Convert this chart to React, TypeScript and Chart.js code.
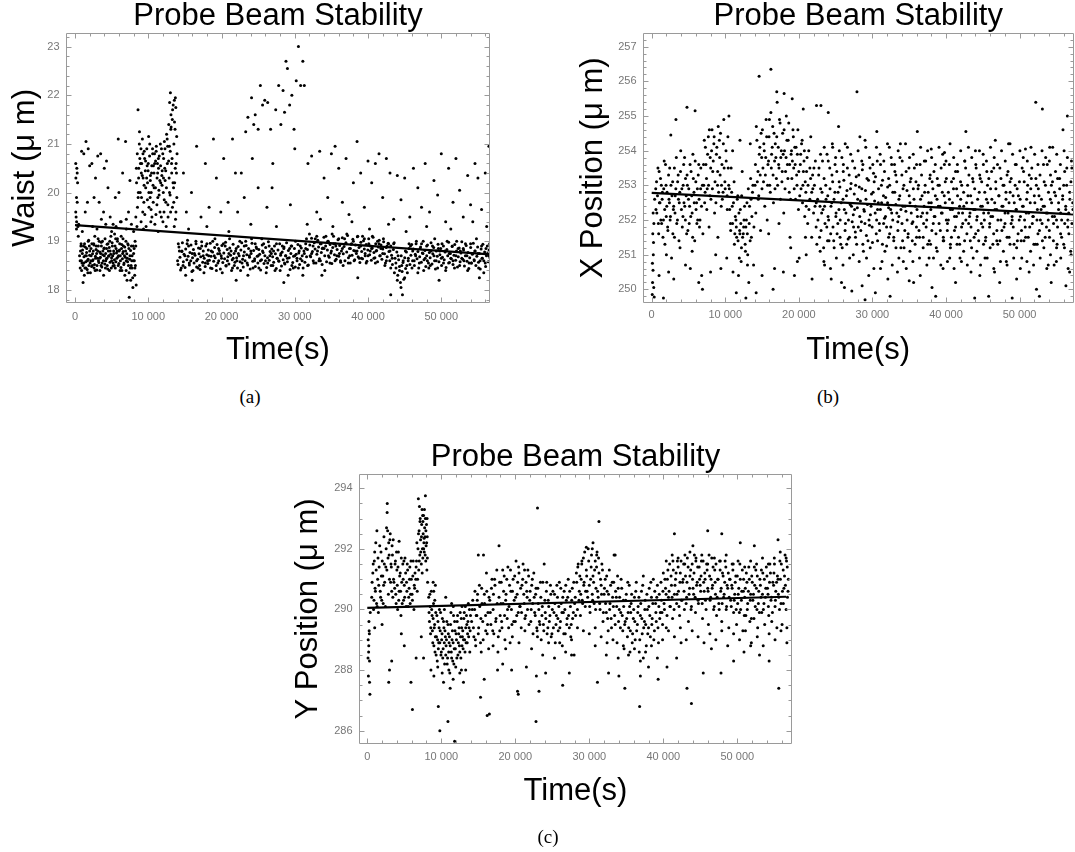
import React, { useEffect, useRef } from "react";
import { Chart, registerables } from "chart.js";

Chart.register(...registerables);

// ---------- DATA (time in kiloseconds, values in micrometres) ----------

const timeTicks = [0, 10000, 20000, 30000, 40000, 50000];
const waistTicks = [18, 19, 20, 21, 22, 23];
const xPosTicks = [250, 251, 252, 253, 254, 255, 256, 257];
const yPosTicks = [286, 288, 290, 292, 294];

const waistFit: [number, number][] = [[0, 19.33], [56.8, 18.73]];
const xPosFit: [number, number][] = [[0, 252.78], [57.4, 252.16]];
const yPosFit: [number, number][] = [[0, 290.05], [56.6, 290.42]];

const waistPoints: [number, number][] = [
  [0.1,20.6],[0.12,20.3],[0.2,19.9],[0.15,19.5],[0.22,19.4],[0.3,20.4],[0.3,19.8],[0.35,20.2],[0.4,19.3],[0.1,19.6],[0.25,20.5],[0.2,19.25],[0.45,19.1],[0.5,19.35],
  [0.9,20.85],[1.2,20.8],[1.5,21.05],[1.8,20.9],[1.7,19.8],[2.0,20.55],[2.3,20.6],[1.0,19.2],[2.6,19.9],[3.1,20.75],[3.3,19.8],[3.5,20.8],[3.6,19.45],[4.3,20.65],[4.5,20.1],[4.8,19.5],[5.2,19.35],[5.9,21.1],[6.0,20.0],[6.2,19.4],[6.5,20.4],[6.9,21.05],[7.3,19.6],[7.5,20.25],[2.8,20.3],[4.0,20.5],[5.5,19.9],[1.4,19.6],[3.9,19.6],[7.0,19.45],
  [2.4,19.3],[3.0,19.25],[4.2,19.35],[5.0,19.2],[5.6,19.3],[6.3,19.4],[7.0,19.25],[7.7,19.35],[8.0,19.2],
  [0.7,18.6],[0.8,18.9],[0.9,18.4],[1.0,18.75],[1.1,18.15],[1.2,18.55],[1.3,18.95],[1.4,18.7],[1.5,18.45],[1.6,18.85],[1.7,18.6],[1.8,19.0],[1.9,18.5],[2.0,18.8],[2.1,18.35],[2.2,18.7],[2.3,18.95],[2.4,18.6],[2.5,18.8],[2.6,18.45],[2.7,19.1],[2.8,18.65],[2.9,18.9],[3.0,18.5],[3.1,18.8],[3.2,18.6],[3.3,19.0],[3.4,18.4],[3.5,18.75],[3.6,18.9],[3.7,18.55],[3.8,18.8],[3.9,18.3],[4.0,18.7],[4.1,19.05],[4.2,18.6],[4.3,18.85],[4.4,18.5],[4.5,18.95],[4.6,18.7],[4.7,18.4],[4.8,18.8],[4.9,19.1],[5.0,18.6],[5.1,18.9],[5.2,18.55],[5.3,18.75],[5.4,19.15],[5.5,18.45],[5.6,18.85],[5.7,18.65],[5.8,19.0],[5.9,18.5],[6.0,18.8],[6.1,18.95],[6.2,18.6],[6.3,19.1],[6.4,18.4],[6.5,18.75],[6.6,18.9],[6.7,18.55],[6.8,18.3],[6.9,18.8],[7.0,18.6],[7.1,18.2],[7.2,18.95],[7.3,18.5],[7.4,17.85],[7.5,18.7],[7.6,18.2],[7.7,18.9],[7.8,18.45],[7.9,18.05],[8.0,18.75],[8.1,18.6],[8.2,19.0],
  [0.75,18.8],[0.95,18.55],[1.15,18.9],[1.35,18.45],[1.55,18.7],[1.75,18.35],[1.95,18.9],[2.15,18.6],[2.35,18.5],[2.55,18.95],[2.75,18.4],[2.95,18.75],[3.15,19.05],[3.35,18.65],[3.55,18.5],[3.75,19.0],[3.95,18.85],[4.15,18.45],[4.35,18.65],[4.55,18.8],[4.75,19.0],[4.95,18.45],[5.15,18.7],[5.35,18.5],[5.55,19.05],[5.75,18.8],[5.95,18.7],[6.15,18.4],[6.35,18.85],[6.55,19.05],[6.75,18.7],[6.95,19.0],[7.15,18.65],[7.35,18.85],[7.55,18.45],[7.75,18.6],[7.95,18.9],[8.15,18.3],
  [8.25,18.5],[8.3,18.9],[8.35,18.1],
  [8.3,19.5],[8.4,20.2],[8.5,20.8],[8.6,21.7],[8.62,19.9],[8.7,20.5],[8.8,21.25],[8.9,20.0],[9.0,20.9],[9.02,19.4],[9.1,20.6],[9.2,21.1],[9.3,20.3],[9.4,19.8],[9.5,20.7],[9.6,20.45],[9.7,19.3],[9.8,20.9],[9.9,20.2],[10.0,20.6],[10.1,19.7],[10.2,21.0],[10.3,20.35],[10.4,20.0],[10.5,19.5],[10.6,20.8],[10.7,20.55],[10.8,20.1],[10.9,19.35],[11.0,20.65],[11.1,20.95],[11.2,20.3],[11.3,19.9],[11.4,20.5],[11.5,20.75],[11.6,19.6],[11.7,20.2],[11.8,20.9],[11.9,20.45],[12.0,19.4],[12.1,20.7],[12.2,21.05],[12.3,20.25],[12.4,19.8],[12.5,21.2],[12.6,20.6],[12.7,19.5],[12.8,21.4],[12.9,20.0],[13.0,20.85],[13.1,21.6],[13.2,20.4],[13.3,19.7],[13.4,21.8],[13.5,21.0],[13.6,20.2],[13.7,21.95],[13.72,19.45],[13.8,20.6],[13.9,19.9],[13.02,22.05],[13.32,21.7],[12.92,21.85],
  [8.45,19.3],[8.65,20.0],[8.85,20.7],[9.05,20.4],[9.25,19.6],[9.45,20.85],[9.65,20.1],[9.85,20.55],[10.05,21.15],[10.25,19.9],[10.45,20.4],[10.65,20.15],[10.85,20.8],[11.05,19.55],[11.25,20.6],[11.45,20.05],[11.65,21.0],[11.85,20.35],[12.05,20.0],[12.25,20.5],[12.45,19.3],[12.65,20.95],[12.85,20.3],[13.05,19.6],[13.25,20.7],[13.45,20.1],[13.65,21.3],[13.85,20.4],[9.35,19.25],[10.35,19.4],[11.35,19.2],[12.15,19.6],[13.55,19.3],
  [14.0,18.6],[14.1,18.95],[14.5,18.45],[14.6,18.8],[15.0,18.7],[15.1,18.3],[15.5,18.9],[15.6,18.55],[16.0,18.75],[16.1,18.4],[16.5,19.0],[16.6,18.6],[17.0,18.5],[17.1,18.85],[17.5,18.7],[17.6,18.35],[18.0,18.95],[18.1,18.6],[18.5,18.45],[18.6,18.8],[19.0,18.7],[19.1,19.05],[19.5,18.55],[19.6,18.85],[20.0,18.65],[20.1,18.35],[20.5,18.9],[20.6,18.5],[21.0,18.75],[21.1,19.05],[21.5,18.45],[21.6,18.65],[22.0,18.85],[22.1,18.6],[22.5,19.0],[22.6,18.4],[23.0,18.7],[23.1,18.9],[23.5,18.55],[23.6,18.3],[24.0,18.8],[24.1,19.05],[24.5,18.6],[24.6,18.95],[25.0,18.7],[25.1,18.45],[25.5,19.05],[25.6,18.8],[26.0,18.6],[26.1,18.35],[26.5,18.9],[26.6,18.7],[27.0,18.5],[27.1,18.8],[27.5,18.95],[27.6,18.65],[28.0,18.4],[28.1,18.75],[28.5,18.85],[28.6,18.55],[29.0,18.65],[29.1,18.3],[29.5,18.9],[29.6,18.5],[30.0,18.7],[30.1,19.0],[30.5,18.45],[30.6,18.8],[31.0,18.6],[31.1,18.3],[31.5,18.85],[31.6,19.05],
  [32.0,19.15],[32.1,18.7],[32.5,18.9],[32.6,18.55],[33.0,19.1],[33.1,18.8],[33.5,18.6],[33.6,18.95],[34.0,18.85],[34.1,18.4],[34.5,19.0],[34.6,18.7],[35.0,18.8],[35.1,19.15],[35.5,18.6],[35.6,18.9],[36.0,19.05],[36.1,18.75],[36.5,18.85],[36.6,18.5],[37.0,18.95],[37.1,19.15],[37.5,18.7],[37.6,18.85],[38.0,19.0],[38.1,18.6],[38.5,18.8],[38.6,19.1],[39.0,18.9],[39.1,18.65],[39.5,19.05],[39.6,18.75],[40.0,18.7],[40.1,18.95],[40.5,18.85],[40.6,19.1],[41.0,18.55],[41.1,18.8],[41.5,18.95],[41.6,18.7],[42.0,18.75],[42.1,19.05],[42.5,18.6],[42.6,18.9],[43.0,18.8],[43.1,18.45],[43.5,18.95],[43.6,18.35],[44.0,18.2],[44.1,18.7],[44.5,18.05],[44.6,18.5],[45.0,18.25],[45.1,18.8],[45.5,18.65],[45.6,18.95],[46.0,18.45],[46.1,18.8],[46.5,18.7],[46.6,19.0],[47.0,18.55],[47.1,18.85],[47.5,18.75],[47.6,18.4],[48.0,18.9],[48.1,18.6],[48.5,18.5],[48.6,18.8],[49.0,18.7],[49.1,19.05],[49.5,18.45],[49.6,18.85],[50.0,18.65],[50.1,18.95],[50.5,18.8],[50.6,18.4],[51.0,18.55],[51.1,18.75],[51.5,18.9],[51.6,18.6],[52.0,18.7],[52.1,19.0],[52.5,18.5],[52.6,18.8],[53.0,18.85],[53.1,18.6],[53.5,18.7],[53.6,18.4],[54.0,18.95],[54.1,18.55],[54.5,18.6],[54.6,18.8],[55.0,18.75],[55.1,18.45],[55.5,18.9],[55.6,18.65],[56.0,18.55],[56.1,18.85],[56.5,18.7],[56.6,18.95],
  [14.25,18.8],[14.75,18.5],[15.3,18.95],[15.8,18.6],[16.3,18.75],[16.8,18.45],[17.3,18.9],[17.8,18.55],[18.25,18.7],[18.8,19.0],[19.3,18.4],[19.75,18.75],[20.25,18.95],[20.8,18.6],[21.3,18.8],[21.75,18.5],[22.3,18.75],[22.8,18.55],[23.3,19.0],[23.8,18.7],[24.3,18.45],[24.8,18.85],[25.3,18.6],[25.75,18.95],[26.3,18.55],[26.8,18.75],[27.3,18.4],[27.8,18.6],[28.3,18.9],[28.75,18.7],[29.3,18.85],[29.8,18.45],[30.3,18.65],[30.75,18.9],[31.3,18.75],[31.75,18.5],[32.3,18.75],[32.8,19.05],[33.3,18.6],[33.75,18.85],[34.25,19.1],[34.8,18.55],[35.3,18.95],[35.75,18.7],[36.25,18.6],[36.8,19.05],[37.3,18.55],[37.75,18.95],[38.25,18.8],[38.8,18.65],[39.25,19.1],[39.75,18.55],[40.3,18.8],[40.8,18.65],[41.3,19.0],[41.75,18.85],[42.3,18.5],[42.8,18.95],[43.3,18.65],[43.8,18.55],[44.3,18.4],[44.8,18.6],[45.3,18.5],[45.8,18.9],[46.3,18.6],[46.8,18.35],[47.3,18.95],[47.8,18.65],[48.3,18.45],[48.8,18.9],[49.3,18.6],[49.8,18.8],[50.3,18.55],[50.8,19.0],[51.3,18.65],[51.8,18.45],[52.3,18.85],[52.8,18.65],[53.3,18.95],[53.8,18.55],[54.3,18.75],[54.8,19.05],[55.3,18.6],[55.8,18.35],[56.3,18.75],[56.8,18.55],
  [15.5,19.25],[18.0,19.3],[21.0,19.2],[24.0,19.35],[27.5,19.3],[31.7,19.35],[33.5,19.45],[35.2,19.3],[37.8,19.4],[40.2,19.25],[42.8,19.35],[45.2,19.2],[48.0,19.3],[51.3,19.25],[54.3,19.4],[56.2,19.3],
  [16.0,18.2],[22.0,18.2],[28.5,18.15],[33.7,18.3],[38.6,18.25],[43.1,17.9],[44.7,17.9],[49.7,18.2],[55.2,18.25],
  [14.8,20.4],[15.2,19.6],[15.9,20.0],[16.6,20.95],[17.2,19.5],[17.8,20.6],[18.3,19.7],[18.9,21.1],[19.3,20.3],[19.9,19.6],[20.3,20.7],[20.9,19.8],[21.5,21.1],[21.9,20.4],[22.2,19.6],[22.7,20.4],[23.1,19.9],[23.3,21.25],[23.6,21.55],[24.1,21.95],[24.4,21.4],[24.6,21.6],[24.2,20.7],[25.0,21.3],[25.3,22.2],[25.6,21.8],[25.9,21.9],[26.3,21.85],[26.7,21.3],[26.9,20.1],[27.4,21.7],[27.8,22.2],[28.1,21.4],[28.4,22.1],[28.6,21.65],[28.8,22.7],[29.0,22.55],[29.3,21.8],[29.6,22.0],[29.9,21.3],[30.2,22.3],[30.5,23.0],[30.8,22.2],[31.1,22.7],[31.3,22.2],[30.0,20.9],[29.4,19.75],[27.0,20.6],[26.2,19.7],[25.0,20.1],
  [31.8,20.6],[32.3,20.75],[33.0,19.6],[33.4,20.85],[34.0,20.3],[34.5,19.9],[35.0,20.8],[35.5,20.95],[36.0,20.5],[36.5,19.8],[37.0,20.7],[37.4,19.55],[38.0,20.2],[38.5,21.05],[39.0,20.4],[39.5,19.7],[40.0,20.65],[40.5,20.2],[41.0,20.6],[41.5,20.8],[42.0,19.9],[42.5,20.7],[43.0,20.4],[43.5,19.45],[44.0,20.35],[44.5,19.85],[45.0,20.3],[45.7,19.5],[46.2,20.5],[46.8,20.1],[47.3,19.7],[47.8,20.6],[48.4,19.6],[49.0,20.25],[49.5,19.95],[50.0,20.8],[50.6,19.4],[51.0,20.5],[51.6,19.8],[52.0,20.7],[52.5,20.05],[53.0,19.5],[53.6,20.35],[54.0,19.75],[54.6,20.6],[55.0,20.3],[55.5,19.65],[56.0,20.4],[56.5,20.95],[56.8,19.6],
];

const waistDense: [number, number][] = [
  [0.62,18.7],[0.71,18.45],[0.83,18.95],[0.88,18.6],[1.03,18.82],[1.08,18.5],[1.22,18.68],[1.27,18.3],[1.41,18.88],[1.47,18.58],[1.58,18.77],[1.66,18.42],[1.79,18.63],[1.86,19.02],[1.99,18.71],[2.06,18.55],[2.18,18.85],[2.27,18.48],[2.39,18.74],[2.46,18.62],[2.58,18.92],[2.66,18.52],[2.79,18.69],[2.87,18.83],[2.98,18.41],[3.07,18.65],[3.18,18.9],[3.26,18.56],[3.39,18.78],[3.47,18.67],[3.58,18.98],[3.66,18.47],[3.79,18.72],[3.88,18.6],[3.99,18.86],[4.07,18.53],[4.18,18.75],[4.27,18.64],[4.38,18.94],[4.47,18.43],[4.59,18.69],[4.67,18.87],[4.78,18.57],[4.87,18.73],[4.99,18.66],[5.07,18.97],[5.18,18.49],[5.27,18.8],[5.38,18.62],[5.47,18.9],[5.58,18.58],[5.66,18.76],[5.79,19.05],[5.87,18.68],[5.98,18.54],[6.07,18.82],[6.18,18.7],[6.27,18.46],[6.38,18.93],[6.47,18.64],[6.58,18.79],[6.66,18.52],[6.79,18.88],[6.87,18.67],[6.98,18.4],[7.07,18.74],[7.18,18.58],[7.27,18.92],[7.38,18.35],[7.47,18.63],[7.58,18.81],[7.66,18.5],[7.79,18.7],[7.87,18.25],[7.98,18.6],[8.07,18.85],[8.18,18.45],
  [8.38,20.5],[8.53,19.7],[8.68,20.3],[8.78,21.0],[8.93,20.6],[9.08,19.9],[9.18,20.35],[9.28,20.8],[9.43,20.15],[9.53,19.55],[9.63,20.65],[9.78,20.3],[9.88,19.85],[9.98,20.45],[10.08,20.0],[10.18,20.75],[10.28,20.25],[10.38,19.65],[10.48,20.55],[10.58,20.9],[10.68,19.8],[10.78,20.4],[10.88,20.6],[10.98,20.1],[11.08,20.85],[11.18,19.75],[11.28,20.4],[11.38,20.7],[11.48,19.95],[11.58,20.25],[11.68,20.55],[11.78,19.5],[11.88,20.15],[11.98,20.8],[12.08,20.3],[12.18,19.85],[12.28,20.9],[12.38,20.45],[12.48,20.1],[12.58,21.1],[12.68,19.75],[12.78,20.65],[12.88,20.95],[12.98,19.95],[13.08,21.3],[13.18,20.6],[13.28,21.5],[13.38,20.2],[13.48,19.8],[13.58,21.45],[13.68,20.5],[13.78,19.6],[13.88,21.15],[13.93,20.8],[13.76,21.75],[13.56,21.9],[13.12,21.35],
  [14.07,18.52],[14.19,18.88],[14.33,18.67],[14.41,18.41],[14.58,18.79],[14.66,18.97],[14.79,18.58],[14.88,18.73],[15.02,18.46],[15.11,18.84],[15.27,18.62],[15.36,19.02],[15.44,18.69],[15.61,18.51],[15.69,18.77],[15.83,18.92],[15.95,18.38],[16.04,18.66],[16.17,18.83],[16.25,18.55],[16.38,18.71],[16.52,18.95],[16.6,18.47],[16.74,18.63],[16.86,18.86],[16.93,18.74],[17.08,18.42],[17.16,18.68],[17.29,18.99],[17.43,18.57],[17.51,18.8],[17.64,18.65],[17.77,18.48],[17.85,18.9],[17.99,18.72],[18.13,18.54],[18.2,18.82],[18.34,18.61],[18.46,18.96],[18.57,18.69],[18.7,18.44],[18.78,18.78],[18.93,18.59],[19.06,18.87],[19.14,18.66],[19.27,18.5],[19.39,18.93],[19.48,18.74],[19.62,18.6],[19.7,18.81],[19.84,18.43],[19.96,18.7],[20.05,18.91],[20.18,18.56],[20.31,18.76],[20.42,18.64],[20.55,18.98],[20.63,18.49],[20.77,18.83],[20.86,18.68],[21.0,18.53],[21.12,18.86],[21.24,18.71],[21.37,18.4],[21.46,18.62],[21.58,18.94],[21.71,18.75],[21.83,18.57],[21.92,18.8],[22.06,18.66],[22.18,18.45],[22.27,18.89],[22.41,18.7],[22.53,18.58],[22.64,18.82],[22.76,18.97],[22.88,18.63],[22.97,18.47],[23.11,18.78],[23.22,18.6],[23.36,18.91],[23.45,18.72],[23.57,18.51],[23.69,18.85],[23.82,18.67],[23.91,18.43],[24.04,18.75],[24.16,18.96],[24.27,18.59],[24.38,18.81],[24.52,18.64],[24.61,18.48],[24.73,18.88],[24.87,18.69],[24.96,18.55],[25.09,18.83],[25.21,18.73],[25.34,18.41],[25.46,18.62],[25.55,18.92],[25.68,18.77],[25.8,18.54],[25.92,18.7],[26.03,18.87],[26.17,18.46],[26.28,18.66],[26.4,18.99],[26.51,18.61],[26.63,18.79],[26.77,18.5],[26.86,18.84],[26.98,18.68],[27.12,18.57],[27.23,18.9],[27.35,18.74],[27.47,18.44],[27.58,18.65],[27.71,18.82],[27.83,18.59],[27.94,18.95],[28.06,18.71],[28.19,18.49],[28.28,18.78],[28.42,18.62],[28.53,18.88],[28.65,18.53],[28.77,18.7],[28.88,18.97],[28.99,18.58],[29.13,18.81],[29.24,18.66],[29.36,18.42],[29.47,18.75],[29.59,18.9],[29.72,18.56],[29.83,18.69],[29.95,18.85],[30.07,18.47],[30.18,18.73],[30.31,18.6],[30.43,18.93],[30.54,18.76],[30.66,18.52],[30.78,18.64],[30.89,18.86],[31.02,18.7],[31.14,18.45],[31.25,18.8],[31.38,18.57],[31.49,18.95],[31.61,18.68],[31.73,18.83],[31.86,18.51],
  [32.05,18.92],[32.17,18.68],[32.29,19.06],[32.41,18.79],[32.52,18.6],[32.66,18.97],[32.77,18.84],[32.89,18.55],[33.01,18.73],[33.14,19.02],[33.25,18.88],[33.37,18.64],[33.49,18.95],[33.62,18.77],[33.73,18.52],[33.84,18.86],[33.98,19.08],[34.09,18.7],[34.21,18.9],[34.34,18.58],[34.45,18.82],[34.57,19.0],[34.7,18.67],[34.82,18.93],[34.93,18.76],[35.06,18.54],[35.18,18.87],[35.29,19.1],[35.42,18.72],[35.53,18.95],[35.65,18.63],[35.78,18.83],[35.9,19.03],[36.01,18.69],[36.13,18.91],[36.26,18.57],[36.37,18.8],[36.49,19.07],[36.62,18.74],[36.73,18.89],[36.85,18.6],[36.98,18.97],[37.09,18.78],[37.21,19.12],[37.33,18.66],[37.46,18.85],[37.57,18.55],[37.69,18.94],[37.82,18.71],[37.93,19.04],[38.05,18.81],[38.18,18.62],[38.29,18.92],[38.41,18.75],[38.54,19.09],[38.65,18.68],[38.77,18.87],[38.89,18.56],[39.02,18.98],[39.13,18.79],[39.25,18.64],[39.38,19.01],[39.49,18.84],[39.61,18.7],[39.74,18.93],[39.85,18.59],[39.97,18.82],[40.09,19.05],[40.22,18.72],[40.33,18.9],[40.45,18.61],[40.58,18.86],[40.69,19.08],[40.81,18.77],[40.94,18.66],[41.05,18.95],[41.17,18.81],[41.3,18.58],[41.41,18.88],[41.53,19.02],[41.66,18.7],[41.77,18.92],[41.89,18.63],[42.02,18.84],[42.13,18.99],[42.25,18.74],[42.38,18.55],[42.49,18.87],[42.61,18.68],[42.74,18.96],[42.85,18.79],[42.97,18.6],[43.1,18.9],[43.21,18.71],[43.33,18.52],[43.46,18.83],[43.57,18.97],[43.69,18.65],[43.82,18.45],[43.93,18.78],
  [44.06,18.3],[44.18,18.62],[44.29,18.48],[44.42,18.15],[44.53,18.7],[44.65,18.38],[44.77,18.56],[44.88,18.22],[45.01,18.66],[45.13,18.44],[45.24,18.78],[45.37,18.35],[45.49,18.6],[45.6,18.85],[45.72,18.52],[45.85,18.71],[45.96,18.93],
  [46.08,18.6],[46.2,18.84],[46.33,18.5],[46.45,18.73],[46.56,18.95],[46.69,18.64],[46.81,18.79],[46.92,18.45],[47.05,18.68],[47.17,18.88],[47.28,18.57],[47.41,18.76],[47.53,19.0],[47.64,18.62],[47.76,18.81],[47.89,18.48],[48.01,18.7],[48.12,18.92],[48.25,18.55],[48.37,18.77],[48.48,18.66],[48.6,18.97],[48.73,18.53],[48.84,18.74],[48.96,18.87],[49.09,18.6],[49.2,18.43],[49.32,18.8],[49.45,18.69],[49.56,18.94],[49.68,18.58],[49.81,18.72],[49.92,18.85],[50.04,18.5],[50.16,18.67],[50.29,18.9],[50.4,18.62],[50.52,18.78],[50.65,18.46],[50.76,18.83],[50.88,18.7],[51.01,18.98],[51.12,18.56],[51.24,18.75],[51.37,18.64],[51.48,18.89],[51.6,18.52],[51.73,18.71],[51.84,18.93],[51.96,18.61],[52.08,18.8],[52.21,18.47],[52.32,18.68],[52.44,18.86],[52.57,18.58],[52.68,18.76],[52.8,18.99],[52.93,18.63],[53.04,18.82],[53.16,18.49],[53.29,18.7],[53.4,18.91],[53.52,18.59],[53.65,18.77],[53.76,18.44],[53.88,18.66],[54.01,18.87],[54.12,18.55],[54.24,18.73],[54.37,18.96],[54.48,18.62],[54.6,18.8],[54.72,18.5],[54.85,18.69],[54.96,18.88],[55.08,18.57],[55.21,18.75],[55.32,18.43],[55.44,18.84],[55.57,18.65],[55.68,18.94],[55.8,18.6],[55.92,18.78],[56.05,18.48],[56.16,18.7],[56.28,18.9],[56.41,18.58],[56.52,18.82],[56.64,18.66],[56.76,18.97],
];

const xPosPoints: [number, number][] = [
  [0.08,249.85],[0.12,250.2],[0.18,250.55],[0.1,250.75],[0.22,251.0],[0.25,251.35],[0.15,251.6],[0.3,251.9],[0.28,250.05],[0.35,249.78],[0.2,252.2],[0.4,252.6],
  [0.55,252.9],[0.7,252.2],[0.85,253.5],[0.95,251.6],[1.05,252.5],[1.2,253.2],[1.35,251.9],[1.45,252.8],[1.6,252.0],[1.7,253.7],[1.8,251.3],[1.95,253.0],[2.05,252.4],[2.2,251.7],[2.35,252.6],[2.45,253.5],[2.55,252.1],[2.7,250.9],[2.85,253.1],[2.95,252.3],[3.1,251.5],[3.2,252.7],[3.35,253.8],[3.5,252.0],[3.6,253.3],[3.75,252.5],[3.85,251.2],[3.95,254.0],[4.1,252.9],[4.25,252.1],[4.35,253.6],[4.5,252.4],[4.6,253.2],[4.75,251.6],[4.85,253.0],[5.0,252.6],[5.1,251.9],[5.25,250.6],[5.35,253.4],[5.5,252.2],[5.6,253.9],[5.75,252.8],[5.85,251.4],[6.0,253.1],[6.1,252.5],[6.25,252.0],[6.4,253.6],[6.5,251.8],[6.65,252.9],[6.8,250.4],
  [1.6,249.75],[2.6,254.45],[3.3,254.9],[4.8,255.25],[5.9,255.15],[1.0,250.4],[2.3,250.5],[3.0,250.3],[4.6,250.7],[6.4,250.2],[6.9,250.0],[2.0,251.0],[5.5,251.1],
  [7.05,253.6],[7.2,252.5],[7.3,254.1],[7.45,253.2],[7.55,252.9],[7.7,254.4],[7.8,251.8],[7.95,253.8],[8.05,252.6],[8.2,254.6],[8.3,253.4],[8.45,254.2],[8.55,252.2],[8.7,251.0],[8.8,253.9],[8.95,253.0],[9.05,254.7],[9.2,254.3],[9.3,253.3],[9.45,252.4],[9.55,253.6],[9.7,252.8],[9.8,254.9],[9.95,253.1],[10.1,254.0],[10.25,252.7],[10.4,253.5],
  [8.0,250.5],[9.4,250.6],[9.0,251.5],[10.2,250.9],[10.5,255.0],
  [10.55,252.9],[10.7,251.9],[10.8,253.5],[10.95,252.4],[11.05,250.5],[11.2,253.1],[11.3,251.6],[11.45,252.0],[11.55,251.5],[11.7,252.7],[11.8,250.4],[11.95,251.7],[12.05,252.3],[12.2,251.2],[12.3,253.4],[12.45,251.6],[12.55,252.0],[12.7,251.3],[12.8,251.8],[12.95,252.5],[13.05,251.0],[13.2,250.2],[13.3,252.4],[13.45,253.2],[13.55,251.5],[13.7,252.8],[13.85,250.7],
  [11.5,249.9],[12.8,249.75],[13.4,254.2],[11.0,254.0],[12.0,254.3],
  [14.05,253.0],[14.15,252.2],[14.3,254.3],[14.45,253.4],[14.55,252.7],[14.7,254.1],[14.8,251.7],[14.95,253.8],[15.05,254.6],[15.2,253.1],[15.3,254.0],[15.45,253.3],[15.55,254.9],[15.7,252.0],[15.8,253.6],[15.95,254.4],[16.05,253.0],[16.2,255.1],[16.3,253.9],[16.45,254.7],[16.55,252.5],[16.7,253.7],[16.8,254.2],[16.95,253.2],[17.05,255.4],[17.2,254.1],[17.3,253.5],[17.45,254.8],[17.55,253.8],[17.7,253.1],[17.8,254.5],[17.95,252.2],[18.05,254.0],[18.2,253.4],[18.3,255.0],[18.45,253.6],[18.55,254.3],[18.7,252.8],[18.8,251.5],[18.95,253.9],[19.05,253.2],[19.2,254.6],[19.3,253.5],[19.45,254.1],[19.55,252.6],[19.7,253.3],[19.8,253.9],[19.95,252.3],[20.05,250.9],[20.2,253.6],[20.3,252.9],[20.45,254.3],[20.55,253.0],[20.7,253.7],[20.8,252.1],[20.95,252.8],[21.05,253.4],[21.2,251.9],[21.35,254.0],[21.5,252.6],[21.6,253.2],[21.75,251.5],[21.9,252.9],[22.05,253.5],[22.2,252.4],[22.35,251.8],
  [14.6,256.15],[16.2,256.35],[17.0,255.7],[18.0,255.65],[19.1,255.5],[20.6,255.2],[22.4,255.3],[15.0,250.4],[16.7,250.6],[17.9,250.5],[19.4,250.4],[21.0,251.0],[14.2,249.9],[16.5,250.0],[21.8,250.3],
  [22.55,252.6],[22.7,253.3],[22.82,251.5],[22.96,252.9],[23.1,252.2],[23.22,253.7],[23.37,251.2],[23.5,252.4],[23.66,253.0],[23.8,251.8],[23.93,252.7],[24.05,252.0],[24.2,253.5],[24.33,251.6],[24.47,252.5],[24.6,253.1],[24.74,251.4],[24.9,252.8],[25.03,252.1],[25.16,253.4],[25.3,251.9],[25.45,252.3],[25.58,252.95],[25.7,251.3],[25.85,253.8],[26.0,252.6],[26.12,253.15],[26.28,251.7],[26.4,252.2],[26.55,252.85],[26.7,251.45],[26.84,253.3],[26.98,252.45],[27.1,253.05],[27.25,251.95],[27.4,252.15],[27.53,252.75],[27.68,251.65],[27.8,253.25],[27.95,252.35],[28.08,251.8],[28.22,252.95],[28.37,252.55],[28.5,251.95],[28.63,253.45],[28.78,251.1],[28.9,252.25],[29.05,252.85],[29.18,251.55],[29.32,252.45],[29.47,253.15],[29.6,251.85],[29.73,252.15],[29.88,252.75],
  [30.0,251.35],[30.15,253.35],[30.3,252.55],[30.42,253.25],[30.57,252.0],[30.7,252.3],[30.83,252.9],[30.98,251.7],[31.1,253.6],[31.25,252.5],[31.38,253.15],[31.52,251.9],[31.65,252.05],[31.8,252.65],[31.93,251.25],[32.07,252.95],[32.2,252.35],[32.35,253.0],[32.5,251.8],[32.62,252.2],[32.77,252.8],[32.9,251.5],[33.05,253.4],[33.18,252.45],[33.3,253.1],[33.45,251.95],[33.6,252.1],[33.72,252.7],[33.87,251.2],[34.0,253.3],[34.14,252.4],[34.28,253.0],[34.4,251.7],[34.55,252.25],[34.7,252.85],[34.82,251.5],[34.96,253.5],[35.1,252.5],[35.24,253.2],[35.38,251.9],[35.5,251.95],[35.65,252.6],[35.8,251.3],[35.92,253.1],[36.06,252.3],[36.2,252.9],[36.33,251.7],[36.48,253.6],[36.6,252.1],[36.75,252.7],[36.9,251.5],[37.02,252.4],[37.17,253.0],[37.3,251.8],[37.43,252.2],[37.58,252.8],[37.72,251.4],[37.85,253.3],[38.0,252.5],[38.12,253.1],[38.27,251.9],[38.4,252.1],[38.55,252.7],[38.68,251.2],[38.82,253.2],[38.95,252.4],[39.1,253.0],[39.23,251.7],[39.37,252.2],[39.5,252.8],[39.64,251.5],[39.78,253.6],[39.9,252.5],
  [40.05,253.2],[40.2,251.9],[40.32,252.0],[40.47,252.6],[40.6,251.3],[40.75,253.1],[40.88,252.3],[41.02,252.9],[41.15,251.7],[41.3,253.4],[41.43,252.1],[41.57,252.7],[41.7,251.5],[41.85,252.4],[41.98,253.1],[42.12,251.8],[42.25,252.2],[42.4,252.8],[42.53,251.4],[42.67,253.5],[42.8,252.5],[42.94,253.0],[43.08,251.9],[43.2,252.1],[43.35,252.7],[43.48,251.2],[43.62,253.2],[43.75,252.3],[43.9,252.9],[44.03,251.6],[44.17,252.0],[44.3,252.6],[44.45,251.4],[44.58,253.3],[44.72,252.4],[44.85,253.1],[45.0,251.8],[45.12,252.2],[45.27,252.8],[45.4,251.5],[45.55,253.4],[45.68,252.5],[45.82,253.2],[45.95,251.9],[46.1,252.1],[46.23,252.6],[46.37,251.3],[46.5,253.5],[46.65,252.3],[46.78,252.9],[46.92,251.7],[47.05,252.0],[47.2,252.7],[47.33,251.4],[47.47,253.2],[47.6,252.4],[47.75,253.0],[47.88,251.8],[48.02,252.2],[48.15,252.8],[48.3,251.5],[48.43,253.4],[48.57,252.5],[48.7,253.1],[48.85,251.9],[48.98,252.1],[49.12,252.7],[49.25,251.3],[49.4,253.0],[49.53,252.3],[49.67,252.9],[49.8,251.6],[49.95,252.0],
  [50.08,252.6],[50.22,251.4],[50.35,253.5],[50.5,252.4],[50.63,253.1],[50.77,251.8],[50.9,252.2],[51.05,252.8],[51.18,251.5],[51.32,253.3],[51.45,252.5],[51.6,253.2],[51.73,251.9],[51.87,252.1],[52.0,252.7],[52.15,251.3],[52.28,253.0],[52.42,252.3],[52.55,252.9],[52.7,251.7],[52.83,252.0],[52.97,252.6],[53.1,251.4],[53.25,253.6],[53.38,252.4],[53.52,253.0],[53.65,251.8],[53.8,252.2],[53.93,252.8],[54.07,251.5],[54.2,253.3],[54.35,252.5],[54.48,253.1],[54.62,251.9],[54.75,252.1],[54.9,252.7],[55.03,251.2],[55.17,253.2],[55.3,252.3],[55.45,252.9],[55.58,251.6],[55.72,252.0],[55.85,252.6],[56.0,251.3],[56.13,253.4],[56.27,252.4],[56.4,253.0],[56.55,251.8],[56.68,252.2],[56.82,252.8],[56.95,251.1],[57.1,253.5],[57.22,252.5],
  [23.0,255.3],[24.0,255.1],[24.6,254.1],[25.4,254.7],[26.3,254.2],[27.9,255.7],[28.3,254.4],[29.0,254.3],[30.6,254.55],[32.3,254.1],[33.8,254.2],[36.1,254.55],[38.0,254.05],[39.8,253.95],[42.7,254.55],[44.0,254.0],[46.7,254.3],[48.7,254.2],[50.8,254.05],[52.2,255.4],[53.1,255.2],[54.1,254.1],[55.9,254.6],[56.5,255.0],
  [23.5,250.7],[24.4,250.3],[25.8,250.2],[26.2,250.05],[27.2,249.95],[28.6,250.1],[29.0,249.7],[29.5,250.4],[30.4,249.9],[31.1,250.6],[32.1,250.3],[32.4,249.8],[33.4,250.5],[34.2,250.8],[35.0,250.25],[35.6,250.2],[36.5,250.4],[37.7,250.9],[38.1,250.05],[38.6,249.8],[39.6,250.6],[40.5,250.9],[41.3,250.2],[42.1,250.8],[43.4,250.5],[43.9,249.75],[44.6,250.4],[45.3,250.9],[45.8,249.8],[46.6,250.5],[47.3,250.2],[48.2,250.8],[49.0,249.75],[49.6,250.3],[50.3,250.9],[51.3,250.5],[52.3,250.0],[52.7,249.8],[53.9,250.7],[54.3,250.2],[55.0,250.8],[56.3,250.1],[56.8,250.5],
];

const xPosDense: [number, number][] = [
  [0.58,252.3],[0.66,253.1],[0.79,252.7],[0.91,251.9],[1.01,253.4],[1.13,252.5],[1.24,252.0],[1.31,253.0],[1.42,252.6],[1.53,251.5],[1.64,252.9],[1.77,252.3],[1.88,253.6],[1.98,252.1],[2.09,252.8],[2.17,251.8],[2.29,253.3],[2.41,252.5],[2.51,252.0],[2.62,253.0],[2.76,252.7],[2.88,251.6],[2.99,252.4],[3.08,253.5],[3.17,252.2],[3.28,252.9],[3.41,251.9],[3.53,253.1],[3.64,252.6],[3.71,251.4],[3.82,252.8],[3.92,253.4],[4.04,252.3],[4.16,251.8],[4.28,253.0],[4.39,252.5],[4.47,253.8],[4.58,252.0],[4.69,252.7],[4.81,253.3],[4.92,251.7],[5.04,252.9],[5.15,252.4],[5.22,253.6],[5.31,252.1],[5.44,252.7],[5.57,251.5],[5.66,253.2],[5.78,252.5],[5.91,253.7],[6.03,252.3],[6.14,251.9],[6.21,252.9],[6.33,253.3],[6.44,252.6],[6.57,252.0],[6.68,253.5],[6.77,252.4],[6.89,253.0],[6.96,251.6],
  [7.08,253.0],[7.15,254.3],[7.26,252.8],[7.37,253.6],[7.49,252.3],[7.6,253.9],[7.73,253.0],[7.84,254.6],[7.92,252.7],[8.02,253.5],[8.14,254.0],[8.25,252.9],[8.37,253.7],[8.49,254.4],[8.61,253.1],[8.73,252.5],[8.86,254.1],[8.97,253.4],[9.1,252.8],[9.24,253.8],[9.35,254.5],[9.49,253.0],[9.6,252.6],[9.74,254.2],[9.85,253.5],[9.99,252.9],[10.13,253.7],[10.27,252.3],[10.36,254.4],[10.47,253.0],
  [10.6,252.3],[10.74,251.7],[10.87,252.8],[10.99,251.9],[11.12,252.5],[11.24,251.3],[11.37,252.1],[11.5,251.8],[11.63,252.6],[11.74,251.4],[11.86,252.2],[11.99,251.6],[12.11,251.9],[12.23,252.7],[12.36,251.5],[12.5,251.8],[12.62,252.4],[12.74,251.1],[12.87,252.0],[13.0,251.6],[13.13,252.9],[13.25,251.9],[13.38,251.4],[13.5,252.6],[13.62,252.1],[13.76,253.0],[13.9,251.8],[12.16,250.8],[11.91,250.9],[13.02,250.7],
  [14.1,253.6],[14.22,254.7],[14.36,253.1],[14.49,252.6],[14.62,253.9],[14.75,253.3],[14.87,254.5],[14.99,252.9],[15.12,253.5],[15.24,254.2],[15.37,252.4],[15.5,253.8],[15.63,254.4],[15.75,253.0],[15.88,253.7],[16.0,254.9],[16.12,252.8],[16.26,253.5],[16.38,254.1],[16.5,253.3],[16.63,254.5],[16.76,252.9],[16.88,253.8],[17.0,254.4],[17.12,253.0],[17.25,253.6],[17.37,254.9],[17.5,252.6],[17.62,254.0],[17.74,253.4],[17.87,253.9],[18.0,254.6],[18.12,252.9],[18.26,253.8],[18.38,254.3],[18.51,253.2],[18.63,254.8],[18.75,253.6],[18.88,252.6],[19.0,254.0],[19.12,253.7],[19.25,254.4],[19.37,252.9],[19.5,253.6],[19.62,254.1],[19.75,253.0],[19.87,254.6],[20.0,253.4],[20.12,252.7],[20.25,253.9],[20.37,254.2],[20.5,252.5],[20.62,253.4],[20.75,254.0],[20.87,253.1],[21.0,252.4],[21.12,253.8],[21.25,253.0],[21.37,252.3],[21.5,253.5],[21.62,254.4],[21.75,252.8],[21.87,253.3],[22.0,252.2],[22.12,253.0],[22.25,253.7],[22.37,252.5],[22.45,251.3],[15.9,251.6],[17.3,251.9],[18.9,251.2],[20.9,251.5],[19.8,250.8],
  [22.6,252.0],[22.74,253.5],[22.88,252.4],[23.02,251.7],[23.15,252.8],[23.28,252.3],[23.43,253.2],[23.56,251.9],[23.7,252.6],[23.83,253.9],[23.97,252.1],[24.1,251.4],[24.24,252.9],[24.37,252.4],[24.5,253.3],[24.64,251.8],[24.78,252.6],[24.92,253.6],[25.06,252.2],[25.2,251.6],[25.33,252.8],[25.48,253.1],[25.62,252.0],[25.76,252.5],[25.9,251.2],[26.04,253.4],[26.18,252.3],[26.33,251.9],[26.46,252.7],[26.6,253.5],[26.74,252.0],[26.88,251.5],[27.02,252.9],[27.16,252.4],[27.3,253.7],[27.44,251.8],[27.58,252.3],[27.72,253.0],[27.86,251.3],[28.0,252.6],[28.14,253.3],[28.28,252.1],[28.42,251.7],[28.56,252.9],[28.7,253.6],[28.84,252.3],[28.98,251.9],[29.12,252.6],[29.26,253.2],[29.4,251.4],[29.54,252.0],[29.68,253.5],[29.82,252.4],[29.96,251.8],[30.1,252.8],[30.24,253.1],[30.38,252.2],[30.52,251.6],[30.66,253.7],[30.8,252.5],[30.94,251.9],[31.08,252.3],[31.22,253.0],[31.36,251.3],[31.5,252.7],[31.64,253.4],[31.78,252.1],[31.92,251.8],[32.06,252.5],[32.2,253.2],[32.34,251.6],[32.48,252.3],[32.62,253.6],[32.76,252.0],[32.9,251.4],[33.04,252.8],[33.18,253.3],[33.32,252.2],[33.46,251.7],[33.6,252.6],[33.74,253.8],[33.88,252.3],[34.02,251.9],[34.16,252.9],[34.3,251.2],[34.44,252.4],[34.58,253.4],[34.72,252.0],[34.86,251.6],[35.0,252.7],[35.14,253.1],[35.28,252.2],[35.42,251.4],[35.56,252.9],[35.7,253.5],[35.84,252.4],[35.98,251.8],[36.12,252.1],[36.26,253.0],[36.4,251.5],[36.54,252.6],[36.68,253.3],[36.82,252.2],[36.96,251.9],[37.1,252.8],[37.24,253.7],[37.38,252.0],[37.52,251.3],[37.66,252.5],[37.8,253.2],[37.94,252.3],[38.08,251.7],[38.22,252.9],[38.36,253.4],[38.5,252.1],[38.64,251.6],[38.78,252.6],[38.92,253.0],[39.06,251.9],[39.2,252.4],[39.34,253.5],[39.48,252.2],[39.62,251.4],[39.76,252.7],[39.9,253.1],
  [40.04,252.0],[40.18,251.7],[40.32,252.8],[40.46,253.6],[40.6,252.3],[40.74,251.5],[40.88,252.5],[41.02,253.2],[41.16,252.1],[41.3,251.8],[41.44,252.9],[41.58,253.4],[41.72,252.2],[41.86,251.3],[42.0,252.6],[42.14,253.0],[42.28,251.9],[42.42,252.4],[42.56,253.7],[42.7,252.0],[42.84,251.6],[42.98,252.7],[43.12,253.3],[43.26,252.2],[43.4,251.8],[43.54,252.5],[43.68,253.1],[43.82,251.5],[43.96,252.3],[44.1,253.5],[44.24,252.1],[44.38,251.7],[44.52,252.8],[44.66,253.2],[44.8,251.9],[44.94,252.4],[45.08,253.6],[45.22,252.0],[45.36,251.4],[45.5,252.6],[45.64,253.0],[45.78,252.2],[45.92,251.8],[46.06,252.9],[46.2,253.4],[46.34,252.1],[46.48,251.6],[46.62,252.5],[46.76,253.1],[46.9,252.3],[47.04,251.3],[47.18,252.7],[47.32,253.5],[47.46,252.0],[47.6,251.7],[47.74,252.4],[47.88,253.0],[48.02,251.9],[48.16,252.6],[48.3,253.3],[48.44,252.2],[48.58,251.5],[48.72,252.8],[48.86,253.2],[49.0,252.0],[49.14,251.8],[49.28,252.5],[49.42,253.6],[49.56,252.3],[49.7,251.4],[49.84,252.7],[49.98,253.1],
  [50.12,252.1],[50.26,251.7],[50.4,252.4],[50.54,253.4],[50.68,252.0],[50.82,251.5],[50.96,252.6],[51.1,253.0],[51.24,252.2],[51.38,251.8],[51.52,252.9],[51.66,253.5],[51.8,252.1],[51.94,251.3],[52.08,252.5],[52.22,253.2],[52.36,252.0],[52.5,251.6],[52.64,252.7],[52.78,253.3],[52.92,252.3],[53.06,251.9],[53.2,252.4],[53.34,253.1],[53.48,251.5],[53.62,252.2],[53.76,253.6],[53.9,252.0],[54.04,251.7],[54.18,252.6],[54.32,253.0],[54.46,252.1],[54.6,251.4],[54.74,252.8],[54.88,253.4],[55.02,252.0],[55.16,251.8],[55.3,252.5],[55.44,253.2],[55.58,252.2],[55.72,251.5],[55.86,252.7],[56.0,253.0],[56.14,251.9],[56.28,252.3],[56.42,253.5],[56.56,252.0],[56.7,251.6],[56.84,252.6],[56.98,253.1],[57.12,251.9],[57.25,252.3],
];

const xPosSpread: [number, number][] = [
  [22.9,251.1],[23.4,250.8],[23.9,251.4],[24.3,250.6],[24.8,251.2],[25.1,250.9],[25.6,251.5],[26.0,250.7],[26.5,251.3],[26.9,250.9],[27.4,251.0],[27.7,251.5],[28.2,250.8],[28.7,251.3],[29.2,250.9],[29.7,251.2],[30.2,250.6],[30.7,251.4],[31.3,250.8],[31.7,251.1],[32.2,251.5],[32.7,250.7],[33.2,251.2],[33.6,250.9],[34.1,251.4],[34.6,250.6],[35.1,251.1],[35.5,250.8],[36.0,251.5],[36.4,250.9],[36.9,251.2],[37.4,250.7],[37.9,251.3],[38.3,250.9],[38.8,251.1],[39.3,250.7],[39.7,251.4],[40.2,250.8],[40.6,251.2],[41.1,250.6],[41.5,251.3],[41.9,250.9],[42.4,251.1],[42.9,250.7],[43.3,251.4],[43.7,250.9],[44.2,251.1],[44.7,250.7],[45.1,251.3],[45.6,250.9],[46.0,251.2],[46.5,250.6],[46.9,251.4],[47.4,250.8],[47.8,251.1],[48.3,250.7],[48.7,251.3],[49.2,250.9],[49.6,251.2],[50.1,250.6],[50.6,251.4],[51.0,250.8],[51.5,251.1],[51.9,250.7],[52.4,251.3],[52.8,250.9],[53.3,251.2],[53.7,250.6],[54.2,251.0],[54.7,250.7],[55.1,251.3],[55.6,250.9],[56.1,251.2],[56.6,250.6],[57.0,251.0],
  [22.95,253.9],[23.45,254.1],[24.0,253.7],[24.55,254.2],[25.0,253.8],[25.5,254.0],[26.05,253.6],[26.6,254.1],[27.05,253.9],[27.6,253.5],[28.05,254.0],[28.55,253.7],[29.1,254.1],[29.6,253.8],[30.05,253.6],[30.55,254.1],[31.05,253.9],[31.55,253.7],[32.05,254.2],[32.55,253.8],[33.0,253.6],[33.5,254.0],[34.05,253.7],[34.5,254.2],[35.05,253.8],[35.55,253.9],[36.0,253.6],[36.55,254.1],[37.05,253.7],[37.5,254.0],[38.05,253.8],[38.55,253.6],[39.05,254.1],[39.55,253.9],[40.0,253.7],[40.55,254.2],[41.05,253.8],[41.55,253.6],[42.0,254.0],[42.55,253.7],[43.05,254.1],[43.5,253.8],[44.05,253.6],[44.55,254.0],[45.05,253.9],[45.5,253.7],[46.05,254.1],[46.55,253.8],[47.0,253.6],[47.55,254.0],[48.05,253.7],[48.5,254.2],[49.05,253.9],[49.55,253.6],[50.05,254.0],[50.5,253.8],[51.05,253.7],[51.55,254.1],[52.05,253.9],[52.5,253.6],[53.05,254.0],[53.55,253.8],[54.05,253.7],[54.5,254.1],[55.05,253.9],[55.55,253.6],[56.05,254.0],[56.5,253.8],[57.05,253.7],
];

const yPosPoints: [number, number][] = [
  [0.1,288.4],[0.15,287.8],[0.2,288.8],[0.25,289.3],[0.12,289.0],[0.3,288.3],[0.35,287.2],[0.22,289.6],[0.3,287.6],[0.4,289.9],[0.18,288.6],[0.28,289.2],
  [0.6,290.4],[0.75,291.2],[0.85,290.0],[0.95,291.6],[1.05,290.7],[1.15,292.2],[1.25,290.2],[1.4,291.0],[1.5,289.9],[1.6,291.4],[1.75,290.6],[1.85,291.9],[1.95,290.3],[2.1,291.1],[2.2,290.8],[2.3,291.5],[2.45,290.1],[2.55,292.0],[2.65,291.3],[2.7,293.5],[2.75,292.6],[2.85,290.5],[2.95,291.8],[3.05,292.3],[3.15,290.9],[3.25,291.4],[3.35,292.1],[3.45,290.4],[3.55,291.0],[3.7,290.7],[3.8,291.6],[3.9,290.2],[4.0,291.3],[4.1,290.0],[4.2,291.9],[4.3,290.6],[4.45,291.2],[4.55,289.8],[4.65,290.9],[4.8,291.5],[4.9,290.3],[5.0,290.8],[5.1,291.7],[5.25,290.1],[5.35,290.6],[5.45,291.3],[5.6,290.4],[5.7,291.0],[5.8,290.2],[5.9,291.6],[6.05,290.5],[6.15,291.1],[6.3,290.0],[6.4,290.7],
  [1.3,292.6],[2.0,289.5],[3.0,288.0],[3.3,288.3],[2.9,287.6],[4.6,289.2],[5.0,288.8],[5.9,287.6],[6.1,286.7],[6.6,288.4],[1.0,289.4],[4.3,292.25],
  [6.55,291.0],[6.65,291.6],[6.75,290.6],[6.85,292.0],[6.95,291.3],[7.0,292.6],[7.1,291.8],[7.15,293.0],[7.2,292.3],[7.3,291.5],[7.35,292.8],[7.4,293.3],[7.45,292.0],[7.5,291.7],[7.55,292.5],[7.6,293.1],[7.65,292.2],[7.7,291.9],[7.75,292.7],[7.8,292.4],[7.85,293.0],[7.9,291.6],[7.95,292.1],[8.0,292.8],[8.05,291.3],[8.1,292.4],[8.15,290.9],[6.9,293.65],[7.85,293.75],[7.3,289.1],[7.6,288.4],
  [8.3,290.4],[8.4,289.6],[8.5,290.1],[8.55,289.2],[8.65,290.6],[8.75,289.8],[8.85,288.9],[8.95,290.2],[9.05,289.4],[9.15,288.6],[9.25,289.9],[9.35,289.1],[9.45,288.3],[9.55,289.6],[9.65,288.9],[9.75,290.0],[9.85,289.3],[9.95,288.5],[10.05,289.0],[10.15,289.7],[10.25,288.7],[10.35,289.4],[10.45,288.2],[10.55,289.1],[10.65,288.8],[10.75,289.6],[10.85,288.4],[10.95,289.2],[11.05,288.9],[11.15,287.9],[11.25,289.5],[11.35,288.6],[11.45,289.0],[11.55,288.3],[11.65,289.8],[11.75,288.7],[11.85,289.3],[11.95,288.1],[12.05,289.0],[12.15,289.6],[12.25,288.5],[12.35,289.2],[12.45,288.8],[12.55,289.9],[12.65,288.4],[12.75,289.4],[12.85,289.1],[12.95,288.7],[13.05,289.7],[13.15,289.0],[13.25,290.1],[13.35,288.9],[13.45,289.5],[13.55,289.2],[13.65,290.2],[13.75,289.4],[13.85,288.6],[13.95,289.8],
  [8.6,288.0],[9.0,287.8],[9.6,286.8],[9.8,286.0],[10.3,287.6],[10.9,286.3],[11.2,287.4],[11.6,287.7],[11.8,285.65],[12.5,287.9],[13.0,287.6],[13.3,288.0],[9.2,290.8],[10.6,290.4],[11.4,290.2],[12.8,290.1],[8.9,290.9],
  [14.1,289.6],[14.25,290.3],[14.4,289.1],[14.5,290.0],[14.65,288.8],[14.8,289.8],[14.9,290.5],[15.05,289.4],[15.2,290.1],[15.3,288.9],[15.45,290.7],[15.6,289.6],[15.7,291.8],[15.85,290.2],[16.0,289.3],[16.15,290.6],[16.3,289.9],[16.4,288.7],[16.55,290.3],[16.7,289.5],[16.85,291.0],[17.0,290.0],[17.1,289.2],[17.25,290.8],[17.4,289.7],[17.5,291.3],[17.65,288.6],[17.8,290.4],[17.95,289.8],[18.1,290.9],[18.2,289.4],[18.35,290.2],[18.5,291.1],[18.6,289.0],[18.75,290.5],[18.9,289.7],[19.0,291.4],[19.15,290.1],[19.3,288.9],[19.4,290.6],[19.55,289.5],[19.7,291.0],
  [19.85,290.3],[20.0,289.6],[20.1,291.6],[20.25,290.5],[20.4,289.9],[20.5,291.2],[20.65,290.1],[20.8,289.4],[20.9,290.8],[21.05,291.5],[21.2,290.2],[21.3,289.7],[21.45,290.9],[21.6,290.4],[21.7,291.3],[21.85,289.5],[22.0,290.6],[22.15,290.0],[22.3,291.0],[22.4,289.2],[22.55,290.4],[22.7,289.8],[22.8,290.7],[22.95,289.3],[23.1,290.2],[23.25,289.6],[23.4,290.9],[23.5,289.0],[23.65,290.1],[23.8,289.5],[23.9,291.5],[24.05,289.9],[24.2,290.6],[24.3,289.2],[24.45,290.3],[24.6,289.6],[24.75,290.8],[24.85,289.1],[25.0,290.0],[25.15,289.4],[25.3,290.5],[25.4,288.9],[25.55,289.8],[25.7,290.4],[25.8,289.3],[25.95,290.9],[26.1,289.6],[26.2,290.2],[26.35,288.8],[26.5,289.9],[26.6,290.6],[26.75,289.2],[26.9,290.3],[27.0,289.7],[27.15,291.0],[27.3,289.4],[27.45,290.1],[27.55,289.5],[27.7,290.7],[27.85,289.9],[27.95,288.5],[28.1,290.4],[28.25,291.2],
  [28.4,290.0],[28.5,291.5],[28.65,290.6],[28.8,289.8],[28.9,291.0],[29.05,290.3],[29.2,291.7],[29.3,290.9],[29.45,290.1],[29.6,291.3],[29.7,290.6],[29.85,292.0],[30.0,290.8],[30.1,289.9],[30.25,291.4],[30.4,290.5],[30.5,291.1],[30.65,290.2],[30.8,291.6],[30.9,290.7],[31.05,291.9],[31.2,290.4],[31.3,291.2],[31.45,290.0],[31.6,290.8],[31.7,291.5],[31.85,289.6],[32.0,290.5],[32.15,291.0],[32.3,289.9],[32.4,290.6],[32.55,289.3],[32.7,291.3],[32.8,290.2],[32.95,289.7],[33.1,290.9],[33.25,290.1],[33.35,291.8],[33.5,289.5],[33.65,290.4],[33.75,288.9],[33.9,290.7],
  [34.05,290.0],[34.2,289.4],[34.3,291.0],[34.45,289.8],[34.6,290.3],[34.7,288.7],[34.85,289.6],[35.0,290.5],[35.15,289.1],[35.25,289.9],[35.4,290.8],[35.55,289.3],[35.65,290.2],[35.8,288.9],[35.95,289.7],[36.1,290.4],[36.2,289.0],[36.35,290.9],[36.5,289.5],[36.6,290.1],[36.75,288.6],[36.9,289.8],[37.05,290.6],[37.15,289.2],[37.3,291.1],[37.45,289.6],[37.55,290.3],[37.7,288.8],[37.85,290.0],[38.0,289.4],[38.1,290.7],[38.25,289.1],[38.4,290.4],[38.5,289.7],[38.65,291.0],[38.8,289.3],[38.95,290.2],[39.05,289.6],[39.2,290.8],[39.35,288.9],[39.45,290.5],[39.6,289.9],
  [39.75,290.3],[39.9,289.5],[40.0,291.2],[40.15,290.0],[40.3,290.7],[40.4,289.4],[40.55,291.0],[40.7,290.4],[40.85,291.5],[40.95,290.1],[41.1,290.8],[41.25,289.7],[41.35,291.3],[41.5,290.5],[41.65,291.0],[41.8,290.2],[41.9,291.6],[42.05,290.6],[42.2,289.8],[42.3,291.2],[42.45,290.3],[42.6,290.9],[42.75,291.5],[42.85,290.0],[43.0,291.1],[43.15,290.4],[43.25,291.7],[43.4,289.6],[43.55,290.7],[43.7,291.3],[43.8,290.1],[43.95,291.0],[44.1,290.5],[44.2,291.8],[44.35,289.9],[44.5,290.8],[44.65,291.4],[44.75,290.2],[44.9,291.0],[45.05,290.6],[45.15,291.6],[45.3,289.7],[45.45,290.9],[45.6,291.2],[45.7,290.3],[45.85,291.5],[46.0,290.7],[46.1,289.5],[46.25,291.1],
  [46.4,290.4],[46.55,291.7],[46.65,290.8],[46.8,290.0],[46.95,291.3],[47.05,290.5],[47.2,289.8],[47.35,291.0],[47.5,290.2],[47.6,291.6],[47.75,290.6],[47.9,289.6],[48.0,291.2],[48.15,290.4],[48.3,290.9],[48.45,291.4],[48.55,290.1],[48.7,290.7],[48.85,289.4],[48.95,291.0],[49.1,290.3],[49.25,290.8],[49.4,291.3],[49.5,289.9],[49.65,290.5],[49.8,291.1],[49.9,289.5],[50.05,290.2],[50.2,290.7],[50.35,291.5],[50.45,290.0],[50.6,290.6],[50.75,289.3],[50.85,291.0],[51.0,290.4],[51.15,289.8],[51.3,290.9],[51.4,290.2],[51.55,291.4],[51.7,289.6],[51.8,290.5],[51.95,291.1],
  [52.1,290.3],[52.25,289.7],[52.35,290.8],[52.5,291.3],[52.65,290.0],[52.75,289.4],[52.9,290.6],[53.05,291.0],[53.2,290.4],[53.3,289.9],[53.45,291.2],[53.6,290.2],[53.7,289.5],[53.85,290.7],[54.0,291.1],[54.15,290.5],[54.25,289.8],[54.4,291.5],[54.55,290.3],[54.65,289.6],[54.8,290.9],[54.95,291.2],[55.1,290.1],[55.2,290.6],[55.35,289.4],[55.5,291.0],[55.6,290.4],[55.75,291.6],[55.9,290.2],[56.05,289.5],[56.2,291.3],[56.3,290.7],[56.45,291.8],[56.6,290.0],[56.75,291.4],[56.85,290.6],
  [15.3,287.1],[16.2,286.5],[16.5,286.55],[15.8,287.7],[17.6,288.0],[18.3,288.2],[19.5,288.0],[20.3,287.3],[20.4,287.2],[21.5,288.1],[22.8,286.3],[23.0,293.35],[23.2,287.3],[22.85,287.8],[24.1,287.9],[26.4,287.5],[27.3,287.9],[27.6,288.5],[15.0,291.8],[17.8,292.1],[31.3,292.9],[30.5,292.2],[31.1,287.6],[32.3,288.5],[32.6,287.9],[34.0,287.8],[34.8,287.4],[36.8,286.8],[36.9,287.8],[38.0,288.1],[39.3,287.7],[40.5,288.1],[41.5,292.5],[41.8,288.4],[43.2,287.4],[43.8,286.9],[45.4,287.9],[46.0,292.6],[47.9,292.5],[47.8,287.9],[49.5,288.3],[50.4,292.2],[50.9,288.6],[52.3,292.1],[53.0,288.5],[54.3,288.3],[55.5,292.3],[55.6,287.4],[56.7,289.4],[29.6,292.05],[33.5,291.8],[44.0,292.1],[42.4,288.9],[46.5,288.7],[51.8,288.8],[37.3,288.4],[35.5,288.6],[30.8,288.8],
];

const yPosDense: [number, number][] = [
  [0.65,290.9],[0.8,291.5],[0.9,290.3],[1.0,291.9],[1.1,290.6],[1.2,291.3],[1.33,290.1],[1.45,291.7],[1.55,290.8],[1.68,292.1],[1.8,290.4],[1.9,291.1],[2.02,291.6],[2.15,290.2],[2.25,292.4],[2.35,290.9],[2.5,291.4],[2.6,292.7],[2.68,293.2],[2.8,291.7],[2.9,292.2],[3.0,291.0],[3.1,292.5],[3.2,291.5],[3.3,290.6],[3.4,291.8],[3.5,292.3],[3.6,290.9],[3.75,291.5],[3.85,290.5],[3.95,291.9],[4.05,290.8],[4.15,291.4],[4.25,290.3],[4.38,291.1],[4.5,290.6],[4.6,291.7],[4.72,290.2],[4.85,291.0],[4.95,291.6],[5.05,290.4],[5.18,291.2],[5.3,290.9],[5.4,291.5],[5.52,290.1],[5.65,290.7],[5.75,291.4],[5.85,290.5],[5.95,291.0],[6.1,290.3],[6.2,291.6],[6.35,290.8],[6.45,291.2],
  [6.6,291.4],[6.7,292.2],[6.8,291.0],[6.92,292.5],[7.02,291.6],[7.12,292.9],[7.22,291.9],[7.32,292.4],[7.42,291.2],[7.52,292.9],[7.62,292.0],[7.72,293.3],[7.82,291.8],[7.92,292.6],[8.02,292.2],[8.12,291.7],[7.05,293.4],[7.68,292.35],[7.48,293.1],[8.08,293.0],
  [8.35,289.9],[8.45,290.5],[8.58,289.4],[8.7,290.0],[8.8,289.3],[8.9,289.7],[9.0,288.8],[9.1,289.5],[9.2,289.1],[9.3,288.5],[9.4,289.8],[9.5,289.0],[9.6,288.7],[9.7,289.4],[9.8,288.9],[9.9,289.9],[10.0,288.6],[10.1,289.2],[10.2,288.4],[10.3,289.6],[10.4,288.9],[10.5,289.3],[10.6,288.5],[10.7,289.0],[10.8,288.2],[10.9,289.5],[11.0,288.6],[11.1,289.1],[11.2,288.8],[11.3,289.9],[11.4,288.4],[11.5,289.3],[11.6,288.9],[11.7,288.2],[11.8,289.6],[11.9,288.7],[12.0,289.2],[12.1,288.4],[12.2,289.8],[12.3,288.9],[12.4,289.4],[12.5,288.6],[12.6,289.1],[12.7,289.7],[12.8,288.8],[12.9,289.3],[13.0,289.0],[13.1,289.9],[13.2,288.6],[13.3,289.4],[13.4,289.8],[13.5,288.9],[13.6,289.6],[13.7,289.1],[13.8,290.0],[13.9,289.3],[9.12,290.3],[10.42,290.0],[11.62,290.1],[12.72,288.0],[10.12,287.9],[9.52,288.1],[11.02,288.0],[8.98,290.6],
  [14.18,290.0],[14.34,289.4],[14.55,290.6],[14.72,289.8],[14.86,290.3],[15.0,289.2],[15.15,290.8],[15.35,289.7],[15.5,290.2],[15.66,289.0],[15.82,290.5],[15.98,289.8],[16.1,291.2],[16.25,289.5],[16.45,290.4],[16.62,289.9],[16.78,290.7],[16.95,289.3],[17.05,290.5],[17.2,291.0],[17.35,289.6],[17.55,290.2],[17.7,289.1],[17.88,290.9],[18.05,290.2],[18.15,289.6],[18.3,291.3],[18.42,290.6],[18.55,289.8],[18.7,290.3],[18.85,291.0],[18.95,290.0],[19.1,289.4],[19.22,290.8],[19.35,291.3],[19.48,290.0],[19.62,290.6],[19.78,289.6],[19.92,291.1],[20.05,290.4],[20.2,289.8],[20.32,290.9],[20.45,291.4],[20.6,290.1],[20.72,290.7],[20.85,289.9],[21.0,291.0],[21.15,290.5],[21.25,291.3],[21.4,289.8],[21.55,290.6],[21.65,290.0],[21.8,291.1],[21.95,290.3],[22.1,289.6],[22.22,290.8],[22.35,290.2],[22.5,291.2],[22.62,289.9],[22.75,290.5],[22.9,289.4],[23.05,290.7],[23.18,290.0],[23.32,289.5],[23.45,290.4],[23.6,289.8],[23.72,290.9],[23.85,289.3],[24.0,290.3],[24.12,289.7],[24.25,290.9],[24.4,289.4],[24.52,290.1],[24.68,289.8],[24.8,290.5],[24.95,289.2],[25.08,290.6],[25.22,289.9],[25.35,290.2],[25.5,289.5],[25.62,290.8],[25.75,289.7],[25.88,290.1],[26.02,289.4],[26.15,290.7],[26.3,289.9],[26.42,290.4],[26.55,289.2],[26.7,290.0],[26.82,290.8],[26.95,289.5],[27.08,290.4],[27.2,289.8],[27.35,290.6],[27.5,289.1],[27.62,290.3],[27.75,289.7],[27.9,290.9],
  [28.02,290.2],[28.15,289.8],[28.3,290.9],[28.45,291.4],[28.6,290.3],[28.72,291.1],[28.85,290.5],[28.98,291.5],[29.1,290.2],[29.25,290.8],[29.38,291.9],[29.5,290.6],[29.65,291.1],[29.78,290.4],[29.92,291.6],[30.05,290.1],[30.18,291.0],[30.3,291.8],[30.45,290.3],[30.58,290.9],[30.72,291.3],[30.85,290.0],[30.98,291.4],[31.12,290.6],[31.25,291.7],[31.4,290.2],[31.52,291.0],[31.65,290.5],[31.78,291.3],[31.9,289.9],[32.05,290.7],[32.2,290.2],[32.35,291.1],[32.48,289.7],[32.6,290.5],[32.75,290.0],[32.88,290.8],[33.0,289.4],[33.15,290.4],[33.3,290.9],[33.42,289.8],[33.55,290.6],[33.7,290.1],[33.82,291.1],[33.95,289.6],
  [34.1,290.4],[34.25,289.9],[34.38,290.7],[34.52,289.3],[34.65,290.1],[34.78,289.5],[34.92,290.3],[35.05,289.7],[35.2,290.9],[35.32,289.4],[35.45,290.1],[35.6,289.9],[35.72,290.5],[35.85,289.2],[36.0,290.0],[36.15,289.6],[36.28,290.6],[36.4,289.3],[36.55,289.9],[36.7,290.4],[36.82,289.0],[36.95,290.2],[37.1,289.7],[37.22,290.8],[37.35,289.4],[37.5,290.0],[37.62,289.5],[37.78,290.5],[37.9,289.2],[38.05,290.1],[38.18,289.8],[38.32,290.9],[38.45,289.5],[38.58,290.2],[38.72,289.0],[38.85,290.6],[39.0,289.9],[39.12,290.4],[39.28,289.4],[39.4,290.1],[39.52,289.7],[39.68,290.9],[39.82,289.9],[39.95,290.6],
  [40.1,290.2],[40.22,291.0],[40.38,290.5],[40.5,289.8],[40.62,291.3],[40.78,290.6],[40.9,290.1],[41.05,291.1],[41.18,290.4],[41.3,291.6],[41.45,290.0],[41.58,290.8],[41.72,291.2],[41.85,290.5],[42.0,291.4],[42.12,290.1],[42.25,290.9],[42.4,291.6],[42.52,290.3],[42.68,291.0],[42.8,290.6],[42.92,291.8],[43.08,290.2],[43.2,290.9],[43.35,291.4],[43.48,290.5],[43.6,291.1],[43.75,290.0],[43.9,291.5],[44.02,290.7],[44.15,291.2],[44.3,290.4],[44.42,291.7],[44.58,290.9],[44.7,290.3],[44.85,291.4],[44.98,290.8],[45.1,291.1],[45.25,290.2],[45.38,291.6],[45.52,290.6],[45.65,291.0],[45.78,290.0],[45.92,291.3],[46.05,290.6],[46.18,291.8],[46.32,290.3],[46.45,291.0],[46.6,290.7],[46.72,291.4],[46.88,290.1],[47.0,290.9],[47.12,291.5],[47.28,290.4],[47.4,291.0],[47.55,290.0],[47.68,291.3],[47.82,290.7],[47.95,290.2],[48.08,291.1],[48.22,290.5],[48.35,291.6],[48.5,290.0],[48.62,290.8],[48.78,291.2],[48.9,290.4],[49.02,291.0],[49.18,290.1],[49.3,290.7],[49.45,291.5],[49.58,290.3],[49.72,290.9],[49.85,290.0],
  [50.0,291.1],[50.12,290.5],[50.28,289.9],[50.4,291.0],[50.55,290.3],[50.68,291.3],[50.82,290.6],[50.95,289.8],[51.08,290.7],[51.22,291.2],[51.35,290.0],[51.5,290.6],[51.62,291.0],[51.75,290.3],[51.9,289.7],[52.02,290.9],[52.18,290.5],[52.3,291.4],[52.42,290.1],[52.58,290.7],[52.7,291.1],[52.85,290.2],[52.98,289.9],[53.12,290.8],[53.25,291.3],[53.4,290.5],[53.52,290.0],[53.65,291.0],[53.8,290.4],[53.92,291.4],[54.08,290.7],[54.2,290.1],[54.35,290.9],[54.48,291.2],[54.62,290.4],[54.75,289.9],[54.9,290.8],[55.02,291.5],[55.15,290.3],[55.3,290.9],[55.42,291.1],[55.55,290.5],[55.7,290.0],[55.82,291.0],[55.95,291.5],[56.1,290.6],[56.22,290.2],[56.38,291.1],[56.5,290.8],[56.65,291.6],[56.78,290.4],[56.9,291.0],
];

const yPosSpread: [number, number][] = [
  [14.6,289.0],[15.4,288.6],[16.2,289.2],[17.0,288.8],[17.9,289.3],[18.7,288.7],[19.6,289.1],[20.5,288.9],[21.3,289.3],[22.2,288.7],[23.0,289.1],[23.7,288.5],[24.5,288.9],[25.3,288.4],[26.0,288.9],[26.8,288.6],[27.6,289.0],[28.4,289.4],[29.2,289.3],[30.0,289.2],[30.8,289.4],[31.6,289.1],[32.4,288.9],[33.2,289.0],[33.9,288.4],[34.6,288.8],[35.3,288.5],[36.1,288.7],[36.9,288.3],[37.6,288.6],[38.4,288.8],[39.2,288.4],[39.9,289.0],[40.7,289.3],[41.5,289.1],[42.3,289.4],[43.1,289.0],[43.9,289.3],[44.7,289.1],[45.5,288.9],[46.3,289.2],[47.1,289.0],[47.9,289.3],[48.7,288.8],[49.5,289.2],[50.3,289.0],[51.1,289.3],[51.9,288.9],[52.7,289.1],[53.5,288.8],[54.3,289.2],[55.1,289.0],[55.9,289.3],[56.7,288.9],
  [40.4,291.6],[41.2,291.8],[42.0,291.7],[42.9,291.5],[43.6,291.9],[44.4,291.6],[45.2,291.8],[46.0,291.5],[46.9,291.7],[47.7,291.6],[48.5,291.8],[49.3,291.5],[50.1,291.6],[51.0,291.4],[51.8,291.6],[52.6,291.5],[53.4,291.7],[54.2,291.5],[55.0,291.7],[55.8,291.9],[56.6,291.7],[29.0,291.6],[30.4,292.0],[31.0,291.8],
];

// ---------- STYLE / LAYOUT ----------

const SANS = "'Liberation Sans', Arial, Helvetica, sans-serif";
const SERIF = "'Liberation Serif', 'Times New Roman', serif";
const FRAME = "#9a9a9a";
const TICK_TEXT = "#777777";

const framePlugin = {
  id: "frameTicks",
  afterDatasetsDraw(chart: any, _args: any, opts: any) {
    const { ctx, chartArea } = chart;
    const xs = chart.scales.x;
    const ys = chart.scales.y;
    const L = Math.round(chartArea.left) + 0.5;
    const R = Math.round(chartArea.right) - 0.5;
    const T = Math.round(chartArea.top) + 0.5;
    const B = Math.round(chartArea.bottom) - 0.5;
    ctx.save();
    ctx.strokeStyle = FRAME;
    ctx.lineWidth = 1;
    ctx.beginPath();
    ctx.rect(L, T, R - L, B - T);
    const isMajor = (v: number, step: number) => Math.abs(v / step - Math.round(v / step)) < 1e-6;
    for (let i = Math.ceil(xs.min / opts.xMinor); i * opts.xMinor <= xs.max; i++) {
      const v = i * opts.xMinor;
      const len = isMajor(v, opts.xMajor) ? 5 : 3;
      const px = Math.round(xs.getPixelForValue(v)) + 0.5;
      ctx.moveTo(px, B); ctx.lineTo(px, B - len);
      ctx.moveTo(px, T); ctx.lineTo(px, T + len);
    }
    for (let i = Math.ceil(ys.min / opts.yMinor - 1e-9); i * opts.yMinor <= ys.max + 1e-9; i++) {
      const v = i * opts.yMinor;
      const len = isMajor(v, opts.yMajor) ? 5 : 3;
      const py = Math.round(ys.getPixelForValue(v)) + 0.5;
      ctx.moveTo(L, py); ctx.lineTo(L + len, py);
      ctx.moveTo(R, py); ctx.lineTo(R - len, py);
    }
    ctx.stroke();
    ctx.restore();
  },
};

const fmtTime = (v: number) => String(Math.round(v)).replace(/\B(?=(\d{3})+(?!\d))/g, " ");

type PanelCfg = {
  left: number; top: number; width: number; height: number;
  points: [number, number][]; fit: [number, number][];
  yLabel: string; yTicks: number[];
  xMin: number; xMax: number; yMin: number; yMax: number;
  yMajor: number; yMinor: number;
  yWidth: number; yTitlePad: number; titleTop: number;
  padRight: number; padBottom: number; xTickPad: number;
};

const panels: PanelCfg[] = [
  {
    left: 0, top: 0, width: 500, height: 380,
    points: waistPoints.concat(waistDense), fit: waistFit, yLabel: "Waist (μ m)", yTicks: waistTicks,
    xMin: -1230, xMax: 56650, yMin: 17.73, yMax: 23.28, yMajor: 1, yMinor: 0.2,
    yWidth: 66, yTitlePad: 6.4, titleTop: 2, padRight: 10, padBottom: 7, xTickPad: 7.4,
  },
  {
    left: 540, top: 0, width: 535, height: 380,
    points: xPosPoints.concat(xPosDense, xPosSpread), fit: xPosFit, yLabel: "X Position (μ m)", yTicks: xPosTicks,
    xMin: -1180, xMax: 57330, yMin: 249.605, yMax: 257.395, yMajor: 1, yMinor: 0.2,
    yWidth: 103, yTitlePad: 34.4, titleTop: 2, padRight: 1, padBottom: 7, xTickPad: 5.6,
  },
  {
    left: 280, top: 440, width: 520, height: 412,
    points: yPosPoints.concat(yPosDense, yPosSpread), fit: yPosFit, yLabel: "Y Position (μ m)", yTicks: yPosTicks,
    xMin: -1120, xMax: 57390, yMin: 285.56, yMax: 294.47, yMajor: 2, yMinor: 0.5,
    yWidth: 79, yTitlePad: 9.4, titleTop: 3, padRight: 8, padBottom: 38, xTickPad: 6.1,
  },
];

const captions = [
  { text: "(a)", x: 250, y: 396 },
  { text: "(b)", x: 828, y: 396 },
  { text: "(c)", x: 548, y: 836 },
];

function Panel({ cfg }: { cfg: PanelCfg }) {
  const ref = useRef<HTMLCanvasElement | null>(null);
  useEffect(() => {
    if (!ref.current) return;
    const chart = new Chart(ref.current, {
      type: "scatter",
      data: {
        datasets: [
          {
            data: cfg.fit.map(([t, v]) => ({ x: t * 1000, y: v })),
            showLine: true,
            borderColor: "#000",
            borderWidth: 2.2,
            pointRadius: 0,
            fill: false,
          } as any,
          {
            data: cfg.points.map(([t, v]) => ({ x: t * 1000, y: v })),
            backgroundColor: "#000",
            borderColor: "#000",
            borderWidth: 0,
            pointRadius: 1.5,
            pointHoverRadius: 1.5,
          },
        ],
      },
      options: {
        animation: false,
        responsive: false,
        maintainAspectRatio: false,
        devicePixelRatio: 1,
        events: [],
        layout: { padding: { left: 0, top: 0, right: cfg.padRight, bottom: cfg.padBottom } },
        plugins: {
          legend: { display: false },
          tooltip: { enabled: false },
          title: {
            display: true,
            text: "Probe Beam Stability",
            color: "#000",
            fullSize: false,
            font: { family: SANS, size: 31, weight: "normal", lineHeight: 1 },
            padding: { top: cfg.titleTop - 1, bottom: 1 },
          },
          frameTicks: { xMajor: 10000, xMinor: 2000, yMajor: cfg.yMajor, yMinor: cfg.yMinor },
        } as any,
        scales: {
          x: {
            type: "linear",
            min: cfg.xMin,
            max: cfg.xMax,
            grid: { display: false, drawTicks: false },
            border: { display: false },
            afterBuildTicks: (s: any) => { s.ticks = timeTicks.map((v) => ({ value: v })); },
            afterFit: (s: any) => { s.height = 70; },
            ticks: {
              color: TICK_TEXT,
              font: { family: SANS, size: 11 },
              padding: cfg.xTickPad,
              maxRotation: 0,
              autoSkip: false,
              includeBounds: false,
              callback: (v: any) => fmtTime(Number(v)),
            },
            title: {
              display: true,
              text: "Time(s)",
              color: "#000",
              font: { family: SANS, size: 31, lineHeight: 1.2 },
              padding: { top: 0, bottom: 4 },
            },
          },
          y: {
            type: "linear",
            min: cfg.yMin,
            max: cfg.yMax,
            grid: { display: false, drawTicks: false },
            border: { display: false },
            afterBuildTicks: (s: any) => { s.ticks = cfg.yTicks.map((v) => ({ value: v })); },
            afterFit: (s: any) => { s.width = cfg.yWidth; },
            ticks: {
              color: TICK_TEXT,
              font: { family: SANS, size: 11 },
              padding: 6.5,
              autoSkip: false,
              includeBounds: false,
              callback: (v: any) => String(v),
            },
            title: {
              display: true,
              text: cfg.yLabel,
              color: "#000",
              font: { family: SANS, size: 31, lineHeight: 1.2 },
              padding: { top: cfg.yTitlePad, bottom: 0 },
            },
          },
        },
      },
      plugins: [framePlugin as any],
    });
    return () => chart.destroy();
  }, [cfg]);
  return (
    <canvas
      ref={ref}
      width={cfg.width}
      height={cfg.height}
      style={{ position: "absolute", left: cfg.left, top: cfg.top, width: cfg.width, height: cfg.height }}
    />
  );
}

export default function App() {
  return (
    <div style={{ position: "absolute", left: 0, top: 0, width: 1075, height: 852, background: "#fff", overflow: "hidden" }}>
      {panels.map((p, i) => (
        <Panel key={i} cfg={p} />
      ))}
      {captions.map((c) => (
        <div
          key={c.text}
          style={{
            position: "absolute",
            left: c.x,
            top: c.y,
            transform: "translate(-50%, -50%)",
            fontFamily: SERIF,
            fontSize: 19,
            color: "#000",
            lineHeight: 1,
          }}
        >
          {c.text}
        </div>
      ))}
    </div>
  );
}
